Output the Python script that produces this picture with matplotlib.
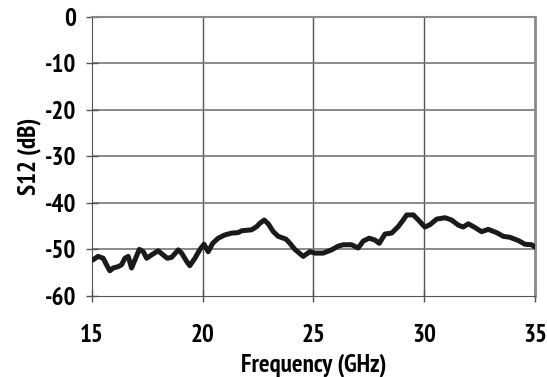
import matplotlib.pyplot as plt

# S12 sweep, 15-35 GHz
freq_ghz = [15.03, 15.28, 15.51, 15.66, 15.81, 15.96, 16.19, 16.34, 16.49, 16.64,
            16.79, 16.94, 17.14, 17.32, 17.47, 17.69, 17.99, 18.22, 18.40, 18.60,
            18.90, 19.05, 19.28, 19.42, 19.65, 19.88, 20.06, 20.25, 20.45, 20.70,
            21.00, 21.31, 21.60, 21.76, 22.21, 22.44, 22.58, 22.78, 22.96, 23.19,
            23.41, 23.76, 23.94, 24.16, 24.54, 24.84, 25.07, 25.44, 25.82, 26.12,
            26.35, 26.72, 27.02, 27.25, 27.52, 27.78, 27.97, 28.23, 28.53, 28.83,
            29.05, 29.21, 29.51, 29.74, 30.03, 30.26, 30.56, 30.94, 31.24, 31.54,
            31.76, 31.99, 32.29, 32.59, 32.89, 33.27, 33.57, 33.87, 34.25, 34.55,
            34.85, 35.0]
s12_db = [-52.3, -51.5, -51.9, -53.3, -54.6, -54.0, -53.7, -53.3, -51.9, -51.5,
          -54.0, -52.3, -50.0, -50.5, -51.9, -51.2, -50.3, -51.2, -51.9, -51.7,
          -50.1, -50.8, -52.6, -53.5, -51.9, -50.0, -48.9, -50.5, -48.7, -47.6,
          -46.9, -46.5, -46.4, -46.0, -45.8, -45.1, -44.4, -43.7, -44.5, -46.2,
          -47.2, -47.8, -48.7, -50.0, -51.5, -50.5, -50.8, -50.8, -50.1, -49.3,
          -49.0, -49.0, -49.7, -48.2, -47.6, -48.0, -48.7, -46.7, -46.5, -45.1,
          -43.7, -42.6, -42.6, -43.7, -45.2, -44.7, -43.5, -43.2, -43.7, -44.8,
          -45.2, -44.5, -45.3, -46.2, -45.7, -46.4, -47.2, -47.4, -48.1, -48.9,
          -49.0, -49.5]

x_ticks = [15, 20, 25, 30, 35]
y_ticks = [0, -10, -20, -30, -40, -50, -60]

family = ['PT Sans Narrow', 'DejaVu Sans']
tick_font = {'family': family, 'weight': 'bold', 'size': 18}
label_font = {'family': family, 'weight': 'bold', 'size': 18}

fig = plt.figure(figsize=(5.47, 3.77), dpi=100)
ax = fig.add_axes([0.168, 0.215, 0.81, 0.741])

ax.plot(freq_ghz, s12_db, color='#1a1a1a', linewidth=3.6, solid_capstyle='round',
        solid_joinstyle='round', zorder=3)

ax.set_xlim(15, 35)
ax.set_ylim(-60, 0)
ax.set_xticks(x_ticks)
ax.set_yticks(y_ticks)
ax.set_xticklabels([str(t) for t in x_ticks], fontdict=tick_font)
ax.set_yticklabels([str(t) for t in y_ticks], fontdict=tick_font)
ax.tick_params(direction='inout', length=8, width=1, color='#555555')
ax.tick_params(axis='y', pad=7)
ax.tick_params(axis='x', pad=16)

# inner grid lines only, the frame draws the edges
for x in x_ticks[1:-1]:
    ax.axvline(x, color='#555555', linewidth=1, zorder=1)
for y in y_ticks[1:-1]:
    ax.axhline(y, color='#777777', linewidth=1.2, zorder=1)

ax.spines['left'].set_color('#555555')
ax.spines['bottom'].set_color('#555555')
ax.spines['top'].set_color('#8a8a8a')
ax.spines['top'].set_linewidth(1.5)
ax.spines['right'].set_color('#8a8a8a')
ax.spines['right'].set_linewidth(2)

ax.set_xlabel('Frequency (GHz)', fontdict=label_font, labelpad=5)
ax.set_ylabel('S12 (dB)', fontdict=label_font, labelpad=3)

fig.savefig('out.png', dpi=100)
